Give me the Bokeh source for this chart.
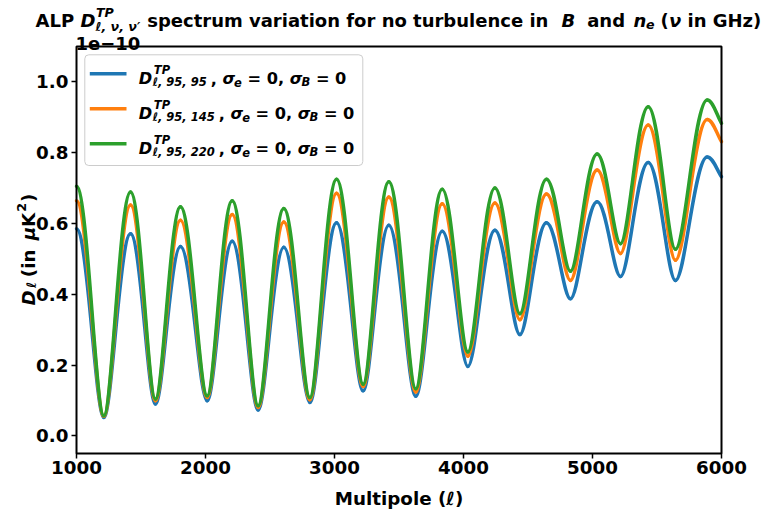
import math
from bokeh.plotting import figure
from bokeh.models import Range1d, FixedTicker, PrintfTickFormatter, Label, BoxAnnotation, Arrow
from bokeh.embed import file_html
from bokeh.resources import INLINE

# ---------------- data (D_ell in units of 1e-10 muK^2), read at the extrema of the curves ----------------
ell_ext = [1000, 1212, 1419, 1612, 1806, 2013, 2207, 2408, 2607, 2809, 3016, 3222, 3421,
           3630, 3835, 4034, 4243, 4437, 4643, 4829, 5036, 5217, 5432, 5643, 5889, 6000]
d_95_95 = [0.585, 0.052, 0.571, 0.090, 0.535, 0.099, 0.550, 0.073, 0.533, 0.094, 0.602, 0.127, 0.595,
           0.112, 0.578, 0.196, 0.581, 0.286, 0.602, 0.387, 0.661, 0.450, 0.772, 0.439, 0.788, 0.732]
d_95_145 = [0.664, 0.055, 0.652, 0.099, 0.609, 0.108, 0.625, 0.080, 0.604, 0.102, 0.685, 0.139, 0.675,
            0.124, 0.656, 0.225, 0.658, 0.328, 0.683, 0.439, 0.751, 0.515, 0.878, 0.496, 0.894, 0.831]
d_95_220 = [0.705, 0.057, 0.689, 0.104, 0.647, 0.113, 0.664, 0.085, 0.642, 0.108, 0.725, 0.146, 0.718,
            0.133, 0.697, 0.237, 0.700, 0.345, 0.725, 0.465, 0.796, 0.543, 0.930, 0.527, 0.949, 0.883]
series = [d_95_95, d_95_145, d_95_220]
series_sub = ["ℓ, 95, 95", "ℓ, 95, 145", "ℓ, 95, 220"]
colors = ["#1f77b4", "#ff7f0e", "#2ca02c"]

x_ticks = [1000, 2000, 3000, 4000, 5000, 6000]
y_ticks = [0.0, 0.2, 0.4, 0.6, 0.8, 1.0]
x_label = "Multipole (ℓ)"
offset_text = "1e−10"

# ---------------- layout ----------------
W, H = 764, 509
FL, FR, FT, FB = 76, 721, 46, 453          # pixel box of the data area
X0, X1 = 1000, 6000
Y0, Y1 = -0.05, 1.10
FONT = "DejaVu Sans"
FT_T = 18.0    # title font size (px)
FS = 18.3      # tick / axis label font size
FSS = 12.8     # script size for title / axis label
LFS = 16.2     # legend font size
LSS = 11.5     # legend script size


def X(px):
    return X0 + (px - FL) / (FR - FL) * (X1 - X0)


def Y(py):
    return Y1 - (py - FT) / (FB - FT) * (Y1 - Y0)


p = figure(width=W, height=H, x_range=Range1d(X(0), X(W)), y_range=Range1d(Y(H), Y(0)),
           output_backend="svg", toolbar_location=None, title=None,
           min_border=0, min_border_left=0, min_border_right=0, min_border_top=0, min_border_bottom=0)
p.background_fill_color = "white"
p.border_fill_color = "white"
p.xgrid.visible = False
p.ygrid.visible = False
p.outline_line_color = None

p.xaxis.fixed_location = Y0
p.yaxis.fixed_location = X0
p.xaxis.ticker = FixedTicker(ticks=x_ticks)
p.yaxis.ticker = FixedTicker(ticks=y_ticks)
p.xaxis.formatter = PrintfTickFormatter(format="%d")
p.yaxis.formatter = PrintfTickFormatter(format="%.1f")
for ax in (p.xaxis[0], p.yaxis[0]):
    ax.axis_line_color = None
    ax.major_tick_line_color = "black"
    ax.major_tick_line_width = 1.5
    ax.major_tick_out = 5
    ax.major_tick_in = 0
    ax.minor_tick_line_color = None
    ax.major_label_text_font = FONT
    ax.major_label_text_font_size = f"{FS}px"
    ax.major_label_text_font_style = "bold"
    ax.major_label_text_color = "black"
p.xaxis.major_label_standoff = 2
p.yaxis.major_label_standoff = 3

# ---------------- curves: cubic Bezier pieces between the read extrema ----------------
K_PEAK, K_TROUGH = 0.40, 0.30


def bezier_pieces(xs, ys):
    out = dict(x0=[], y0=[], x1=[], y1=[], cx0=[], cy0=[], cx1=[], cy1=[])
    n = len(xs)
    for i in range(n - 1):
        xa, ya, xb, yb = xs[i], ys[i], xs[i + 1], ys[i + 1]
        dx = xb - xa
        down = ya > yb
        ka = K_PEAK if down else K_TROUGH
        kb = K_TROUGH if down else K_PEAK
        cyb = yb
        if i == n - 2:  # curve end is not an extremum
            kb = 1 / 3
            cyb = yb + 0.35 * (ya - yb)
        out["x0"].append(xa); out["y0"].append(ya)
        out["x1"].append(xb); out["y1"].append(yb)
        out["cx0"].append(xa + ka * dx); out["cy0"].append(ya)
        out["cx1"].append(xb - kb * dx); out["cy1"].append(cyb)
    return out


for ys, c in zip(series, colors):
    b = bezier_pieces(ell_ext, ys)
    p.bezier(x0=b["x0"], y0=b["y0"], x1=b["x1"], y1=b["y1"],
             cx0=b["cx0"], cy0=b["cy0"], cx1=b["cx1"], cy1=b["cy1"],
             line_color=c, line_width=3.5, line_cap="round")

# frame of the axes
p.add_layout(BoxAnnotation(left=X0, right=X1, bottom=Y0, top=Y1, fill_color=None, fill_alpha=0,
                           line_color="black", line_alpha=1.0, line_width=2))

# ---------------- text helpers ----------------
CW = {' ': .348, ',': .380, '(': .457, ')': .457, '=': .838, '−': .838,
      'A': .774, 'B': .762, 'D': .830, 'G': .821, 'H': .837, 'K': .775, 'L': .637, 'M': .995,
      'P': .733, 'T': .682, 'a': .675, 'b': .716, 'c': .593, 'd': .716, 'e': .678, 'f': .435,
      'i': .343, 'l': .343, 'm': 1.042, 'n': .712, 'o': .687, 'p': .716, 'r': .493, 's': .595,
      't': .478, 'u': .712, 'v': .652, 'z': .582, 'σ': .72, 'ν': .652, 'μ': .72, 'ℓ': .47, '′': .30}
for d in "0123456789":
    CW[d] = .696


def tw(s, size):
    return sum(CW.get(ch, .6) for ch in s) * size


def add_text(px, py, s, size, style="bold", angle=0.0, align="left"):
    p.add_layout(Label(x=X(px), y=Y(py), text=s, text_font=FONT, text_font_size=f"{size}px",
                       text_font_style=style, text_color="black", text_align=align,
                       text_baseline="alphabetic", angle=angle))


def flow(px, py, items, vertical=False):
    pos = py if vertical else px
    for it in items:
        if it[0] is None:
            pos += -it[1] if vertical else it[1]
            continue
        s, size, style, shift = it
        if vertical:
            add_text(px + shift, pos, s, size, style, angle=math.pi / 2)
            pos -= tw(s, size)
        else:
            add_text(pos, py + shift, s, size, style)
            pos += tw(s, size)


# ---------------- title ----------------
TB = 19.5
TSS = 12.6
add_text(35, TB, "ALP", FT_T)
add_text(80, TB, "D", FT_T, "bold italic")
add_text(95.5, 11.7, "TP", TSS, "bold italic")
add_text(95, 26.3, "ℓ, ν, ν′", TSS, "bold italic")
add_text(146.7, TB, "spectrum variation for no turbulence in", FT_T)
add_text(561, TB, "B", FT_T, "bold italic")
add_text(586.7, TB, "and", FT_T)
add_text(633, TB, "n", FT_T, "bold italic")
add_text(645.5, 23.5, "e", TSS, "bold italic")
add_text(660, TB, "(", FT_T)
add_text(668.5, TB, "ν", FT_T, "bold italic")
add_text(687, TB, "in GHz)", FT_T)

# offset text
add_text(75, 43.3, offset_text, FT_T)

# x axis label
add_text((FL + FR) / 2, 497.7, x_label, FS, align="center")

# ---------------- y axis label (rotated) ----------------
SPY = 0.348 * FS
add_text(28.3, 305, "D", FS, "bold italic", angle=math.pi / 2)
add_text(31.3, 287.5, "ℓ", FSS, "bold italic", angle=math.pi / 2)
flow(28.3, 276.7, [("(in", FS, "bold", 0), (None, SPY + 3), ("μ", FS, "bold italic", 0),
                   ("K", FS, "bold", 0), (None, 1), ("2", FSS, "bold", -7), (None, 1),
                   (")", FS, "bold", 0)], vertical=True)

# ---------------- legend ----------------
p.add_layout(BoxAnnotation(left=X(84.3), right=X(362.3), top=Y(54.3), bottom=Y(165),
                           fill_color="white", fill_alpha=0.8, line_color="#cccccc", line_alpha=1.0,
                           line_width=1, border_radius=4))
row_base = [78.3, 113.3, 148.3]
for sub, c, b in zip(series_sub, colors, row_base):
    p.add_layout(Arrow(end=None, x_start=X(89.3), y_start=Y(b - 5), x_end=X(126), y_end=Y(b - 5),
                       line_color=c, line_width=3.5))
    add_text(138.3, b, "D", LFS, "bold italic")
    add_text(153.3, b - 9.3, "TP", LSS, "bold italic")
    add_text(152, b + 3.4, sub, LSS, "bold italic")
    sp = 0.348 * LFS
    flow(152 + tw(sub, LSS) + 4, b, [(",", LFS, "bold", 0), (None, sp), ("σ", LFS, "bold italic", 0),
                                     ("e", LSS, "bold italic", 3.4), (None, sp), ("= 0,", LFS, "bold", 0),
                                     (None, sp), ("σ", LFS, "bold italic", 0), ("B", LSS, "bold italic", 3.4),
                                     (None, sp), ("= 0", LFS, "bold", 0)])

open("out.html", "w").write(file_html(p, INLINE))
